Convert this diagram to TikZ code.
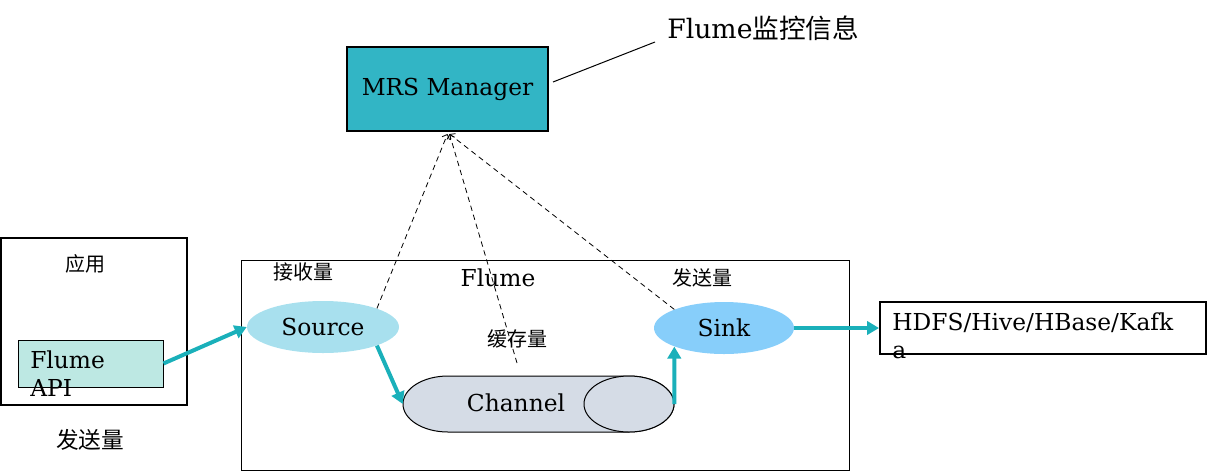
\documentclass[tikz,border=0pt]{standalone}
\usepackage{fontspec}
\setmainfont{DejaVu Serif}
\newfontfamily\cjk{Noto Sans CJK SC}
\usetikzlibrary{arrows.meta,shapes.geometric}
\definecolor{mrsfill}{HTML}{32B5C5}
\definecolor{apifill}{HTML}{BDE8E3}
\definecolor{srcfill}{HTML}{A8E0EE}
\definecolor{sinkfill}{HTML}{87CEFA}
\definecolor{chanfill}{HTML}{D5DCE6}
\definecolor{teal}{HTML}{1AB0BA}
\tikzset{
  serif/.style={font=\fontsize{17.5}{21}\selectfont, inner sep=0pt},
  cjklabel/.style={font=\cjk\fontsize{15}{18}\selectfont, inner sep=0pt},
  thickbox/.style={draw, line width=1.5pt, inner sep=0pt},
  thinbox/.style={draw, line width=0.75pt, inner sep=0pt},
  flow/.style={draw=teal, line width=3pt, -{Triangle[length=9pt,width=10pt]}},
  monitor/.style={draw, dashed, line width=0.6pt, dash pattern=on 4pt off 3pt, -{Straight Barb[length=3pt,width=6pt]}},
}
\begin{document}
\begin{tikzpicture}[x=0.75pt,y=-0.75pt]
\useasboundingbox (0,0) rectangle (1207,472);

% MRS Manager
\node[thickbox, fill=mrsfill, minimum width=201*0.75pt, minimum height=84*0.75pt, font=\fontsize{17.5}{21}\selectfont] (mrs) at (447.5,89) {MRS Manager};
\node[anchor=west, inner sep=0pt, font=\fontsize{20}{24}\selectfont] (info) at (667,28) {Flume{\cjk 监控信息}};
\coordinate (callstart) at (553,82);
\coordinate (callend) at (655,42);
\draw[line width=0.75pt] (callstart) -- (callend);

% application box
\node[thickbox, minimum width=186*0.75pt, minimum height=167*0.75pt] (app) at (94,321.5) {};
\node[cjklabel] (applabel) at (85,264) {应用};
\node[thinbox, fill=apifill, minimum width=145*0.75pt, minimum height=47*0.75pt] (api) at (90.5,363.5) {};
\node[serif, anchor=north west, align=left, font=\fontsize{17.5}{21}\selectfont] (apitext) at (30,350) {Flume\\API};
\node[inner sep=0pt, font=\cjk\fontsize{17}{20}\selectfont] (sendapp) at (90,440) {发送量};

% Flume box
\node[thinbox, minimum width=608*0.75pt, minimum height=210*0.75pt] (flume) at (545,365) {};
\node[serif] (flumelabel) at (498,278) {Flume};
\node[cjklabel] (recv) at (303,272) {接收量};
\node[cjklabel] (sendsink) at (702,278) {发送量};
\node[cjklabel] (cache) at (517,339) {缓存量};

\node[ellipse, fill=srcfill, minimum width=152*0.75pt, minimum height=52*0.75pt, serif] (source) at (323,327) {Source};
\node[ellipse, fill=sinkfill, minimum width=140*0.75pt, minimum height=52*0.75pt, serif] (sink) at (724,328) {Sink};

% Channel (horizontal cylinder)
\filldraw[fill=chanfill, line width=0.75pt] (448,376) -- (629,376)
  arc[start angle=90, end angle=-90, x radius=33.75pt, y radius=21pt]
  -- (448,432)
  arc[start angle=270, end angle=90, x radius=33.75pt, y radius=21pt] -- cycle;
\filldraw[fill=chanfill, line width=0.75pt] (629,404) ellipse [x radius=33.75pt, y radius=21pt];
\node[minimum width=271*0.75pt, minimum height=56*0.75pt, inner sep=0pt] (chan) at (538.5,404) {};
\node[serif] (chantext) at (516,403) {Channel};

% destination
\node[thickbox, minimum width=326*0.75pt, minimum height=52*0.75pt] (dest) at (1043,328) {};
\node[serif, anchor=north west, align=left] (desttext) at (892,312) {HDFS/Hive/HBase/Kafk\\a};

% data flow
\draw[flow] (api.east) -- (source.west);
\draw[flow] (source.south east) -- (chan.west);
\draw[flow] (chan.east) -- (sink.south west);
\draw[flow] (sink.east) -- (dest.west);

% monitoring
\coordinate (cachept) at (517,363);
\draw[monitor] (source.north east) -- ([yshift=-1.5pt]mrs.south);
\draw[monitor] (cachept) -- ([xshift=1.5pt,yshift=-1.5pt]mrs.south);
\draw[monitor] (sink.north west) -- ([xshift=1.5pt,yshift=-1.5pt]mrs.south);
\end{tikzpicture}
\end{document}
